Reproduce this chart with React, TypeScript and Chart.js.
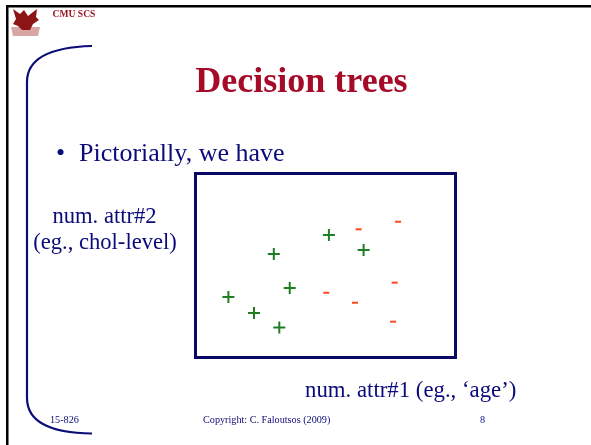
import React, { useEffect, useRef } from "react";
import { Chart, registerables } from "chart.js";

Chart.register(...registerables);

// Data (attribute units, 0..10 on each axis)
const positiveX = [5.13, 3.02, 6.46, 3.63, 1.28, 2.26, 3.23];
const positiveY = [6.63, 5.6, 5.82, 3.75, 3.26, 2.39, 1.61];
const negativeX = [6.27, 7.78, 7.65, 5.03, 6.13, 7.59];
const negativeY = [6.94, 7.35, 4.04, 3.49, 2.95, 1.92];
const xRange = [0, 10];
const yRange = [0, 10];

const NAVY = "#0a0a7a";
const SERIF = '"Liberation Serif", "Times New Roman", serif';

const slidePlugin = {
  id: "slideDecor",
  beforeDraw(chart: any) {
    const ctx = chart.ctx as CanvasRenderingContext2D;
    ctx.save();
    ctx.fillStyle = "#ffffff";
    ctx.fillRect(0, 0, chart.width, chart.height);
    // slide border (left + top)
    ctx.fillStyle = "#000000";
    ctx.fillRect(6, 5, 2.5, chart.height - 5);
    ctx.fillRect(6, 5, chart.width - 6, 2.5);
    // bracket
    ctx.strokeStyle = "#0c0c78";
    ctx.lineWidth = 2.2;
    ctx.lineCap = "butt";
    ctx.beginPath();
    ctx.moveTo(92, 46);
    ctx.bezierCurveTo(55, 47, 27, 56, 27, 82);
    ctx.lineTo(27, 398);
    ctx.bezierCurveTo(27, 424, 55, 433, 92, 433.5);
    ctx.stroke();
    // logo (griffin)
    ctx.fillStyle = "#d9a6a6";
    ctx.beginPath();
    ctx.moveTo(11, 27);
    ctx.lineTo(40, 27);
    ctx.lineTo(38, 36);
    ctx.lineTo(13, 36);
    ctx.closePath();
    ctx.fill();
    ctx.fillStyle = "#8c1414";
    ctx.beginPath();
    ctx.moveTo(13, 9);
    ctx.lineTo(20, 14);
    ctx.lineTo(24, 10);
    ctx.lineTo(28, 16);
    ctx.lineTo(37, 9);
    ctx.lineTo(36, 17);
    ctx.lineTo(39, 20);
    ctx.lineTo(33, 24);
    ctx.lineTo(30, 30);
    ctx.lineTo(22, 30);
    ctx.lineTo(18, 26);
    ctx.lineTo(13, 24);
    ctx.lineTo(16, 19);
    ctx.closePath();
    ctx.fill();
    ctx.restore();
  },
  beforeDatasetsDraw(chart: any) {
    const ctx = chart.ctx as CanvasRenderingContext2D;
    const ca = chart.chartArea;
    ctx.save();
    ctx.strokeStyle = "#0a0a66";
    ctx.lineWidth = 3;
    ctx.strokeRect(ca.left + 0.5, ca.top + 0.5, ca.right - ca.left - 1, ca.bottom - ca.top);
    ctx.restore();
  },
};

const textBase: React.CSSProperties = {
  position: "absolute",
  whiteSpace: "nowrap",
  fontFamily: SERIF,
  lineHeight: 1,
  color: NAVY,
  margin: 0,
};

function T(props: { x: number; baseline: number; size: number; center?: boolean; style?: React.CSSProperties; children: React.ReactNode }) {
  const { x, baseline, size, center, style, children } = props;
  return (
    <div
      style={{
        ...textBase,
        left: x,
        top: baseline - 0.8375 * size,
        fontSize: size,
        transform: center ? "translateX(-50%)" : undefined,
        ...style,
      }}
    >
      {children}
    </div>
  );
}

export default function App() {
  const canvasRef = useRef<HTMLCanvasElement | null>(null);

  useEffect(() => {
    const canvas = canvasRef.current;
    if (!canvas) return;
    const chart = new Chart(canvas, {
      type: "scatter",
      data: {
        datasets: [
          {
            label: "+",
            data: positiveX.map((x, i) => ({ x, y: positiveY[i] })),
            pointStyle: "cross",
            pointRadius: 6,
            pointBorderWidth: 2,
            borderColor: "#1f7d24",
            backgroundColor: "#1f7d24",
          },
          {
            label: "-",
            data: negativeX.map((x, i) => ({ x, y: negativeY[i] })),
            pointStyle: "line",
            pointRadius: 3,
            pointBorderWidth: 2,
            borderColor: "#ff4a1c",
            backgroundColor: "#ff4a1c",
          },
        ],
      },
      options: {
        responsive: false,
        animation: false,
        devicePixelRatio: 1,
        layout: { padding: { left: 195, top: 173, right: 135, bottom: 88 } },
        scales: {
          x: { type: "linear", display: false, min: xRange[0], max: xRange[1] },
          y: { type: "linear", display: false, min: yRange[0], max: yRange[1] },
        },
        plugins: {
          legend: { display: false },
          tooltip: { enabled: false },
          title: { display: false },
        },
      },
      plugins: [slidePlugin],
    } as any);
    return () => chart.destroy();
  }, []);

  return (
    <div style={{ position: "absolute", left: 0, top: 0, width: 591, height: 445, overflow: "hidden", background: "#fff" }}>
      <canvas ref={canvasRef} width={591} height={445} style={{ display: "block", width: 591, height: 445 }} />
      <T x={52.5} baseline={17} size={9.6} style={{ color: "#9a0f1f", fontWeight: "bold" }}>CMU SCS</T>
      <T x={301.5} baseline={92} size={36} center style={{ color: "#a50a28", fontWeight: "bold" }}>Decision trees</T>
      <T x={56} baseline={162} size={26}>•</T>
      <T x={79} baseline={162} size={26}>Pictorially, we have</T>
      <T x={104.5} baseline={224} size={22.6} center>num. attr#2</T>
      <T x={105} baseline={250} size={22.6} center>(eg., chol-level)</T>
      <T x={305} baseline={398} size={22.8}>num. attr#1 (eg., ‘age’)</T>
      <T x={50} baseline={424} size={10.2}>15-826</T>
      <T x={203} baseline={424} size={10.2}>Copyright: C. Faloutsos (2009)</T>
      <T x={480} baseline={424} size={10.2}>8</T>
    </div>
  );
}
